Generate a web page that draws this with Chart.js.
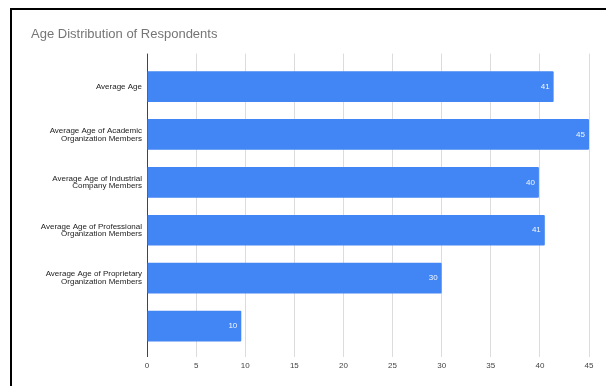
<!DOCTYPE html>
<html>
<head>
<meta charset="utf-8">
<script src="https://cdn.jsdelivr.net/npm/chart.js@4.4.1/dist/chart.umd.min.js"></script>
<style>
  html, body { margin: 0; padding: 0; background: #fff; overflow: hidden; }
  #wrap { position: absolute; left: 0; top: 0; width: 606px; height: 386px; overflow: hidden; }
  #frame {
    position: absolute; left: 10px; top: 8px; width: 700px; height: 500px;
    border-left: 2px solid #000; border-top: 2px solid #000;
    pointer-events: none;
  }
</style>
</head>
<body>
<div id="wrap">
  <canvas id="ageChart" width="606" height="386"></canvas>
  <div id="frame"></div>
</div>
<script>
// =================== DATA ===================
const categories = [
  ["Average Age"],
  ["Average Age of Academic", "Organization Members"],
  ["Average Age of Industrial", "Company Members"],
  ["Average Age of Professional", "Organization Members"],
  ["Average Age of Proprietary", "Organization Members"],
  [""],
];
const ages = [41.4, 45, 39.9, 40.5, 30, 9.6];
const xTicks = [0, 5, 10, 15, 20, 25, 30, 35, 40, 45];

const FONT = "'Liberation Sans', Arial, sans-serif";
const BAR_BLUE = "#4285f4";
const GRID = "#dcdcdc";
const ZERO_LINE = "#444";

// value labels written inside the end of each bar
const barValueLabels = {
  id: "barValueLabels",
  afterDatasetsDraw(chart) {
    const { ctx } = chart;
    const meta = chart.getDatasetMeta(0);
    ctx.save();
    ctx.font = "8px " + FONT;
    ctx.fillStyle = "#f4f8ff";
    ctx.textAlign = "right";
    ctx.textBaseline = "middle";
    meta.data.forEach((bar, i) => {
      ctx.fillText(String(Math.round(ages[i])), bar.x - 4, bar.y);
    });
    ctx.restore();
  },
};

const gridColor = (c) => (c.tick && c.tick.value === 0 ? ZERO_LINE : GRID);

new Chart(document.getElementById("ageChart"), {
  type: "bar",
  data: {
    labels: categories,
    datasets: [
      {
        data: ages,
        backgroundColor: BAR_BLUE,
        borderRadius: 1,
        borderSkipped: "start",
        barPercentage: 0.64,
        categoryPercentage: 1,
      },
    ],
  },
  options: {
    indexAxis: "y",
    responsive: false,
    animation: false,
    layout: { padding: { left: 31, right: 17, top: 0, bottom: 0 } },
    plugins: {
      legend: { display: false },
      tooltip: { enabled: false },
      title: {
        display: true,
        text: "Age Distribution of Respondents",
        align: "start",
        color: "#757575",
        font: { family: FONT, size: 13, weight: "normal", lineHeight: 1.2 },
        padding: { top: 27, bottom: 11 },
      },
    },
    scales: {
      x: {
        type: "linear",
        position: "bottom",
        min: 0,
        max: 45,
        afterBuildTicks: (s) => { s.ticks = xTicks.map((v) => ({ value: v })); },
        afterFit: (s) => { s.height = 36; },
        border: { display: false },
        grid: {
          color: gridColor,
          tickColor: gridColor,
          tickLength: 7,
          lineWidth: 1,
        },
        ticks: {
          color: "#444",
          padding: 4,
          maxRotation: 0,
          font: { family: FONT, size: 8 },
        },
      },
      // tick marks only, so the grid runs a little above the first bar
      xTop: {
        type: "linear",
        position: "top",
        min: 0,
        max: 45,
        afterBuildTicks: (s) => { s.ticks = xTicks.map((v) => ({ value: v })); },
        afterFit: (s) => { s.height = 9; },
        border: { display: false },
        grid: {
          drawOnChartArea: false,
          color: gridColor,
          tickColor: gridColor,
          tickLength: 9,
        },
        ticks: { display: false },
      },
      y: {
        afterFit: (s) => { s.width = 116; },
        border: { display: false },
        grid: { display: false, drawTicks: false },
        ticks: {
          color: "#222",
          padding: 5,
          autoSkip: false,
          font: { family: FONT, size: 8, lineHeight: 0.98 },
        },
      },
    },
  },
  plugins: [barValueLabels],
});
</script>
</body>
</html>
